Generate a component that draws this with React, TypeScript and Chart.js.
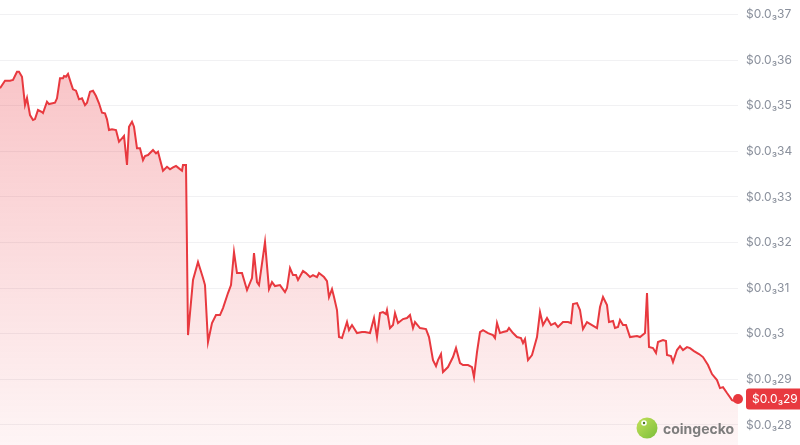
import React, { useEffect, useRef } from "react";
import { Chart, registerables } from "chart.js";

Chart.register(...registerables);

// time index (sampling steps across the 7-day window)
const timeSteps = [
  0, 5, 10, 13, 17, 19, 22, 25, 27, 30, 33, 35, 38, 42, 43, 47, 49, 55, 57, 60,
  63, 64, 66, 68, 71, 73, 76, 79, 82, 85, 87, 90, 93, 96, 99, 102, 105, 107, 109, 112,
  116, 119, 122, 124, 127, 129, 132, 134, 137, 140, 143, 145, 148, 153, 156, 158, 163, 167, 170, 173,
  176, 179, 182, 183, 186, 188, 193, 198, 203, 205, 208, 212, 216, 220, 223, 228, 231, 234, 237, 242,
  247, 252, 254, 257, 259, 265, 269, 272, 275, 280, 285, 287, 290, 293, 296, 298, 303, 306, 310, 313,
  317, 319, 324, 327, 329, 332, 334, 337, 339, 342, 347, 349, 352, 357, 362, 365, 370, 374, 377, 380,
  383, 386, 387, 390, 393, 395, 398, 403, 407, 410, 413, 415, 420, 426, 429, 433, 436, 438, 441, 443,
  448, 453, 456, 460, 463, 468, 472, 474, 477, 480, 483, 488, 493, 495, 497, 500, 503, 507, 509, 513,
  517, 521, 523, 525, 528, 532, 537, 540, 543, 547, 551, 555, 558, 563, 568, 571, 573, 577, 580, 583,
  587, 592, 597, 600, 603, 607, 609, 613, 615, 618, 620, 623, 626, 630, 637, 640, 645, 647, 649, 653,
  656, 658, 663, 666, 667, 671, 673, 677, 680, 683, 687, 690, 694, 699, 703, 708, 712, 717, 720, 723,
  727, 732, 735, 738,
];

// price in USD
const prices = [
  3.5382e-4, 3.5548e-4, 3.5548e-4, 3.5564e-4, 3.5746e-4, 3.5746e-4, 3.5636e-4, 3.5015e-4, 3.5169e-4, 3.4796e-4,
  3.4686e-4, 3.4708e-4, 3.4906e-4, 3.4862e-4, 3.484e-4, 3.5088e-4, 3.5037e-4, 3.5066e-4, 3.5162e-4, 3.5601e-4,
  3.5601e-4, 3.5651e-4, 3.5636e-4, 3.5695e-4, 3.5491e-4, 3.536e-4, 3.5329e-4, 3.514e-4, 3.5162e-4, 3.5015e-4,
  3.5066e-4, 3.5307e-4, 3.5329e-4, 3.5213e-4, 3.5053e-4, 3.4846e-4, 3.4833e-4, 3.4702e-4, 3.4467e-4, 3.4482e-4,
  3.4467e-4, 3.4211e-4, 3.4285e-4, 3.4336e-4, 3.37e-4, 3.4539e-4, 3.4649e-4, 3.4539e-4, 3.4066e-4, 3.4066e-4,
  3.3809e-4, 3.3897e-4, 3.3919e-4, 3.4029e-4, 3.3956e-4, 3.3991e-4, 3.3575e-4, 3.3662e-4, 3.3605e-4, 3.3649e-4,
  3.3678e-4, 3.3627e-4, 3.3575e-4, 3.37e-4, 3.37e-4, 2.9971e-4, 3.1178e-4, 3.1572e-4, 3.1221e-4, 3.1068e-4,
  2.9818e-4, 3.0235e-4, 3.041e-4, 3.041e-4, 3.0564e-4, 3.0893e-4, 3.1068e-4, 3.1792e-4, 3.1331e-4, 3.1331e-4,
  3.0958e-4, 3.1221e-4, 3.177e-4, 3.1134e-4, 3.1068e-4, 3.2011e-4, 3.098e-4, 3.1134e-4, 3.1046e-4, 3.1068e-4,
  3.0914e-4, 3.1002e-4, 3.1441e-4, 3.1287e-4, 3.1287e-4, 3.1178e-4, 3.1375e-4, 3.1331e-4, 3.1243e-4, 3.1287e-4,
  3.1243e-4, 3.1331e-4, 3.1243e-4, 3.1156e-4, 3.0805e-4, 3.098e-4, 3.0805e-4, 3.052e-4, 2.9928e-4, 2.9906e-4,
  3.0257e-4, 3.0081e-4, 3.0191e-4, 3.0015e-4, 3.0037e-4, 3.0037e-4, 3.0015e-4, 3.0344e-4, 2.9928e-4, 3.0454e-4,
  3.0476e-4, 3.0432e-4, 3.052e-4, 3.0125e-4, 3.0191e-4, 3.0454e-4, 3.0235e-4, 3.0322e-4, 3.0344e-4, 3.041e-4,
  3.0125e-4, 3.0257e-4, 3.0125e-4, 3.0103e-4, 2.9928e-4, 2.9423e-4, 2.9292e-4, 2.9423e-4, 2.9555e-4, 2.916e-4,
  2.927e-4, 2.9489e-4, 2.9686e-4, 2.9357e-4, 2.9314e-4, 2.9314e-4, 2.927e-4, 2.905e-4, 2.9599e-4, 3.0037e-4,
  3.0081e-4, 3.0015e-4, 2.9971e-4, 2.9906e-4, 3.0235e-4, 3.0015e-4, 3.0037e-4, 3.0059e-4, 3.0125e-4, 3.0015e-4,
  2.9928e-4, 2.9906e-4, 2.9796e-4, 2.9884e-4, 2.9423e-4, 2.9533e-4, 2.9928e-4, 3.0476e-4, 3.0191e-4, 3.0344e-4,
  3.0191e-4, 3.0235e-4, 3.0147e-4, 3.0257e-4, 3.0257e-4, 3.0235e-4, 3.0651e-4, 3.0673e-4, 3.052e-4, 3.0103e-4,
  3.0257e-4, 3.0191e-4, 3.0125e-4, 3.0586e-4, 3.0805e-4, 3.0629e-4, 3.0257e-4, 3.0279e-4, 3.0125e-4, 3.0147e-4,
  3.03e-4, 3.0191e-4, 3.0191e-4, 2.9928e-4, 2.995e-4, 2.9928e-4, 3.0015e-4, 3.0893e-4, 2.9708e-4, 2.9686e-4,
  2.9577e-4, 2.9818e-4, 2.9862e-4, 2.984e-4, 2.9533e-4, 2.9511e-4, 2.9379e-4, 2.9643e-4, 2.973e-4, 2.9643e-4,
  2.9708e-4, 2.9686e-4, 2.9621e-4, 2.9555e-4, 2.9489e-4, 2.9314e-4, 2.9116e-4, 2.8985e-4, 2.8809e-4, 2.8831e-4,
  2.87e-4, 2.8546e-4, 2.8524e-4, 2.8568e-4,
];

const yTickValues = [2.8e-4, 2.9e-4, 3.0e-4, 3.1e-4, 3.2e-4, 3.3e-4, 3.4e-4, 3.5e-4, 3.6e-4, 3.7e-4];
const yTickLabels = [
  "$0.0₃28", "$0.0₃29", "$0.0₃3", "$0.0₃31", "$0.0₃32",
  "$0.0₃33", "$0.0₃34", "$0.0₃35", "$0.0₃36", "$0.0₃37",
];
const currentPriceLabel = "$0.0₃29";
const watermarkText = "coingecko";

const RED = "#e8393f";

export default function App() {
  const canvasRef = useRef<HTMLCanvasElement | null>(null);

  useEffect(() => {
    const canvas = canvasRef.current;
    if (!canvas) return;

    const badgePlugin = {
      id: "badge",
      afterDraw(chart: any) {
        const { ctx, chartArea } = chart;
        const yScale = chart.scales.y;
        const last = prices[prices.length - 1];
        const y = yScale.getPixelForValue(last);
        ctx.save();
        // badge
        const left = chartArea.right + 8;
        const h = 21;
        ctx.fillStyle = RED;
        ctx.beginPath();
        (ctx as any).roundRect(left, y - h / 2, 800 - left + 4, h, 3);
        ctx.fill();
        ctx.fillStyle = "#ffffff";
        ctx.font = "12px Inter, 'DejaVu Sans', sans-serif";
        ctx.textBaseline = "middle";
        ctx.textAlign = "left";
        ctx.fillText(currentPriceLabel, left + 6, y + 0.5);

        // watermark
        const cx = 647;
        const cy = 428;
        const grad = ctx.createLinearGradient(cx - 10, cy - 10, cx + 10, cy + 10);
        grad.addColorStop(0, "#c2e05a");
        grad.addColorStop(1, "#7cbf3a");
        ctx.fillStyle = grad;
        ctx.beginPath();
        ctx.arc(cx, cy, 10.5, 0, Math.PI * 2);
        ctx.fill();
        ctx.fillStyle = "#ffffff";
        ctx.beginPath();
        ctx.arc(cx - 3, cy - 5, 2.8, 0, Math.PI * 2);
        ctx.fill();
        ctx.fillStyle = "#4a7a20";
        ctx.beginPath();
        ctx.arc(cx - 3, cy - 5, 1.2, 0, Math.PI * 2);
        ctx.fill();
        ctx.fillStyle = "#7d7d7d";
        ctx.font = "bold 14px Inter, 'DejaVu Sans', sans-serif";
        ctx.textBaseline = "alphabetic";
        ctx.fillText(watermarkText, 663, 434);
        ctx.restore();
      },
    };

    const chart = new Chart(canvas, {
      type: "line",
      data: {
        datasets: [
          {
            data: timeSteps.map((t, i) => ({ x: t, y: prices[i] })),
            borderColor: RED,
            borderWidth: 2,
            tension: 0,
            fill: "start",
            clip: false as any,
            backgroundColor: (c: any) => {
              const area = c.chart.chartArea;
              if (!area) return "rgba(234,57,67,0.2)";
              const g = c.chart.ctx.createLinearGradient(0, area.top, 0, area.bottom);
              g.addColorStop(0, "rgba(234,57,67,0.34)");
              g.addColorStop(1, "rgba(234,57,67,0.05)");
              return g;
            },
            pointRadius: (c: any) => (c.dataIndex === prices.length - 1 ? 5 : 0),
            pointHoverRadius: 0,
            pointBackgroundColor: RED,
            pointBorderWidth: 0,
          },
        ],
      },
      options: {
        animation: false,
        responsive: false,
        maintainAspectRatio: false,
        layout: { padding: 0, autoPadding: false },
        plugins: {
          legend: { display: false },
          tooltip: { enabled: false },
        },
        scales: {
          x: {
            type: "linear",
            min: timeSteps[0],
            max: timeSteps[timeSteps.length - 1],
            display: false,
          },
          y: {
            position: "right",
            min: 2.7561e-4,
            max: 3.7318e-4,
            afterBuildTicks: (scale: any) => {
              scale.ticks = yTickValues.map((v) => ({ value: v }));
            },
            afterFit: (scale: any) => {
              scale.width = 62;
              scale.paddingTop = 0;
              scale.paddingBottom = 0;
            },
            border: { display: false },
            grid: { color: "#f1f1f3", drawTicks: false, lineWidth: 1 },
            ticks: {
              padding: 8,
              color: "#8a909c",
              font: { size: 12, family: "Inter, 'DejaVu Sans', sans-serif" },
              callback: (value: any) => {
                const idx = yTickValues.findIndex((v) => Math.abs(v - Number(value)) < 1e-9);
                return idx >= 0 ? yTickLabels[idx] : "";
              },
            },
          },
        },
      },
      plugins: [badgePlugin],
    });

    return () => chart.destroy();
  }, []);

  return (
    <div style={{ position: "absolute", left: 0, top: 0, width: 800, height: 445, background: "#fff" }}>
      <canvas ref={canvasRef} width={800} height={445} style={{ display: "block" }} />
    </div>
  );
}
